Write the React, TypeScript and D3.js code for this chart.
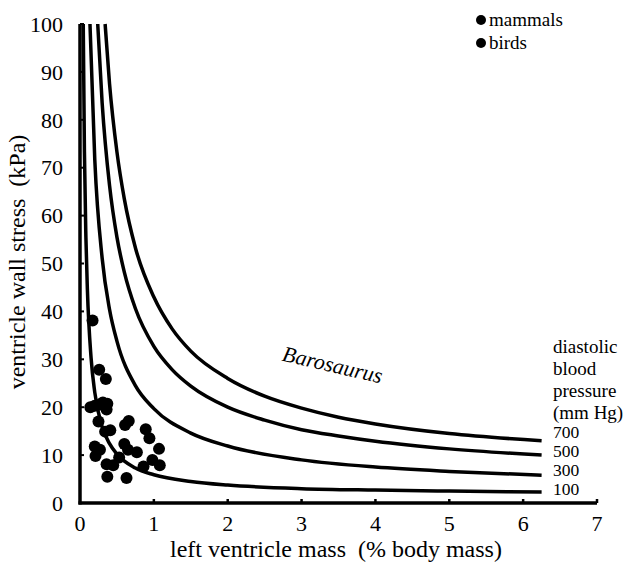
import React from 'react';
import * as d3 from 'd3';

// left ventricle mass (% body mass) vs wall stress (kPa)
const curve700: [number, number][] = [[0.34, 100], [0.4, 87.5], [0.5, 73.3], [0.6, 63.5], [0.75, 53.3], [1, 43], [1.25, 36.3], [1.5, 31.7], [2, 26], [2.5, 22.3], [3, 19.8], [3.5, 17.9], [4, 16.5], [5, 14.5], [6.25, 13]];
const curve500: [number, number][] = [[0.24, 100], [0.3, 83.5], [0.4, 66.3], [0.5, 55.5], [0.6, 48.2], [0.75, 40.6], [1, 32.7], [1.25, 27.8], [1.5, 24.4], [2, 20], [2.5, 17.3], [3, 15.3], [3.5, 14], [4, 12.9], [5, 11.3], [6.25, 10]];
const curve300: [number, number][] = [[0.135, 100], [0.2, 71.7], [0.3, 51.1], [0.4, 40.4], [0.5, 33.8], [0.75, 24.5], [1, 19.7], [1.5, 14.6], [2, 11.9], [3, 9], [4, 7.5], [5, 6.6], [6.25, 5.8]];
const curve100: [number, number][] = [[0.044, 100], [0.06, 73.3], [0.08, 55.4], [0.1, 44.6], [0.15, 30.3], [0.2, 23.1], [0.3, 15.9], [0.4, 12.4], [0.5, 10.2], [0.75, 7.3], [1, 5.9], [1.5, 4.5], [2, 3.75], [3, 3.0], [4, 2.7], [5, 2.5], [6.25, 2.3]];

const pressures = ['700', '500', '300', '100'];

const mammals: [number, number][] = [
  [0.17, 38.1], [0.26, 27.8], [0.35, 25.9], [0.14, 20], [0.2, 20.3], [0.26, 20.5], [0.31, 21], [0.37, 20.7],
  [0.36, 19.5], [0.25, 17], [0.34, 14.9], [0.41, 15.2], [0.2, 11.8], [0.27, 11.1], [0.21, 9.8],
  [0.36, 8.1], [0.45, 7.9], [0.53, 9.5], [0.37, 5.5]
];
const birds: [number, number][] = [
  [0.61, 16.3], [0.66, 17.1], [0.89, 15.4], [0.94, 13.5], [0.6, 12.3], [0.65, 11.1], [0.77, 10.6],
  [1.07, 11.3], [0.86, 7.6], [0.98, 9], [1.08, 7.9], [0.63, 5.2]
];

const xTicks = [0, 1, 2, 3, 4, 5, 6, 7];
const yTicks = [0, 10, 20, 30, 40, 50, 60, 70, 80, 90, 100];
const sideLabel = ['diastolic', 'blood', 'pressure', '(mm Hg)'];

const font = '"Liberation Serif", "Times New Roman", serif';

export default function App() {
  const x = d3.scaleLinear().domain([0, 7]).range([80, 597]);
  const y = d3.scaleLinear().domain([0, 100]).range([503, 24]);

  const line = d3.line<[number, number]>()
    .x(d => x(d[0]))
    .y(d => y(d[1]))
    .curve(d3.curveMonotoneX);

  const curves = [curve700, curve500, curve300, curve100];

  // end labels: sit at the curve ends, pushed apart so they don't collide
  const labelY: number[] = curves.map(c => y(c[c.length - 1][1]) - 3);
  for (let i = labelY.length - 2; i >= 0; i--)
  {
    labelY[i] = Math.min(labelY[i], labelY[i + 1] - 19);
  }

  return (
    <svg width={641} height={562} style={{position: 'absolute', left: 0, top: 0}}
         fontFamily={font} fontSize={21} fill="#000">
      {/* axes */}
      <line x1={x(0)} x2={x(0)} y1={y(100)} y2={y(0) + 1.5} stroke="#000" strokeWidth={3.5}/>
      <line x1={x(0) - 1.5} x2={x(7)} y1={y(0)} y2={y(0)} stroke="#000" strokeWidth={3.5}/>
      {yTicks.map(t =>
        <g key={'y' + t}>
          {t > 0 && <line x1={x(0)} x2={x(0) + 4} y1={y(t)} y2={y(t)} stroke="#000" strokeWidth={2}/>}
          <text x={63} y={y(t)} textAnchor="end" dy="0.35em" fontSize={22}>{t}</text>
        </g>
      )}
      {xTicks.map(t =>
        <g key={'x' + t}>
          {t > 0 && <line x1={x(t)} x2={x(t)} y1={y(0)} y2={y(0) - 4} stroke="#000" strokeWidth={2.5}/>}
          <text x={x(t)} y={531} textAnchor="middle" fontSize={22}>{t}</text>
        </g>
      )}
      <text x={336} y={557} textAnchor="middle" fontSize={24} style={{whiteSpace: 'pre'}}>{'left ventricle mass  (% body mass)'}</text>
      <text transform="translate(25,262) rotate(-90)" textAnchor="middle" fontSize={24} style={{whiteSpace: 'pre'}}>{'ventricle wall stress  (kPa)'}</text>

      {/* pressure curves */}
      {curves.map((c, i) =>
        <g key={'c' + i}>
          <path d={line(c) || ''} fill="none" stroke="#000" strokeWidth={3.5}/>
          <text x={553} y={labelY[i]} dy="0.35em" fontSize={17.5}>{pressures[i]}</text>
        </g>
      )}
      {sideLabel.map((s, i) =>
        <text key={s} x={553} y={353 + i * 22} fontSize={19}>{s}</text>
      )}
      <text transform="translate(331,372) rotate(13)" textAnchor="middle" fontStyle="italic" fontSize={22}>Barosaurus</text>

      {/* data */}
      {mammals.map((d, i) => <circle key={'m' + i} cx={x(d[0])} cy={y(d[1])} r={6}/>)}
      {birds.map((d, i) => <circle key={'b' + i} cx={x(d[0])} cy={y(d[1])} r={6}/>)}

      {/* legend */}
      <circle cx={481} cy={20} r={5}/>
      <text x={489} y={20} dy="0.33em" fontSize={19}>mammals</text>
      <circle cx={481} cy={43} r={5}/>
      <text x={489} y={43} dy="0.33em" fontSize={19}>birds</text>
    </svg>
  );
}
